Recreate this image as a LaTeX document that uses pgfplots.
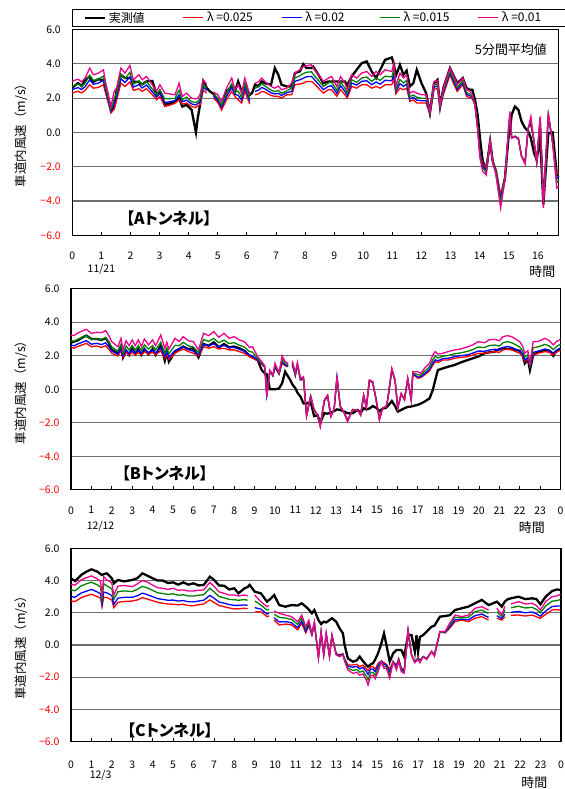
\documentclass[border=0pt]{standalone}
\usepackage{pgfplots}
\pgfplotsset{compat=1.18}
\usepackage{pgfplotstable}
\usepackage{fontspec}
\setmainfont{Noto Sans CJK JP}
\newfontfamily\jpp[RawFeature=+palt]{Noto Sans CJK JP}
\definecolor{ggreen}{RGB}{0,128,0}
\definecolor{gridgray}{RGB}{110,110,110}

\pgfplotstableread{
t k r b g m
0.00 2.60 2.29 2.49 2.68 2.97
0.10 2.75 2.35 2.56 2.76 3.05
0.20 2.87 2.40 2.61 2.81 3.10
0.32 2.70 2.30 2.50 2.68 2.95
0.44 3.05 2.45 2.67 2.87 3.17
0.60 3.26 2.78 3.07 3.34 3.75
0.72 2.95 2.58 2.81 3.03 3.36
0.89 3.10 2.62 2.87 3.10 3.45
1.07 3.05 2.78 3.04 3.28 3.65
1.15 2.68 2.25 2.44 2.61 2.87
1.33 1.26 1.13 1.24 1.35 1.51
1.44 1.51 1.35 1.67 1.96 2.40
1.52 2.39 1.85 2.07 2.27 2.58
1.67 3.36 2.87 3.13 3.38 3.75
1.81 3.17 2.68 2.91 3.13 3.46
1.98 3.17 2.95 3.24 3.50 3.90
2.10 2.97 2.45 2.64 2.81 3.07
2.29 2.93 2.55 2.79 3.02 3.36
2.40 2.80 2.39 2.59 2.78 3.07
2.55 2.97 2.55 2.76 2.96 3.26
2.75 3.00 2.19 2.37 2.53 2.78
2.90 2.19 1.90 2.05 2.18 2.39
3.01 2.40 2.10 2.30 2.49 2.78
3.18 1.61 1.51 1.74 1.96 2.29
3.39 1.70 1.61 1.80 1.97 2.23
3.53 1.81 1.70 1.85 1.98 2.19
3.67 2.00 1.90 2.19 2.46 2.87
3.78 1.51 1.65 1.79 1.91 2.10
3.93 1.61 1.71 1.88 2.05 2.29
4.10 1.32 1.51 1.66 1.79 2.00
4.25 0.00 1.45 1.60 1.74 1.95
4.31 0.83 1.55 1.69 1.81 2.00
4.39 1.61 1.61 1.79 1.95 2.20
4.50 2.97 2.45 2.64 2.81 3.07
4.62 2.60 2.30 2.45 2.59 2.80
4.72 2.40 nan nan nan nan
4.85 2.25 2.00 2.11 2.20 2.35
5.00 1.90 1.75 1.89 2.01 2.20
5.13 1.42 1.32 1.47 1.60 1.81
5.30 2.39 1.90 2.10 2.29 2.58
5.48 2.68 2.39 2.62 2.84 3.17
5.59 2.39 2.10 2.22 2.33 2.49
5.70 2.97 1.90 2.16 2.41 2.78
5.82 2.39 1.71 1.88 2.05 2.29
5.93 2.78 2.39 2.62 2.84 3.17
6.10 2.19 1.65 1.81 1.96 2.19
6.18 2.30 nan nan nan nan
6.28 2.78 2.19 2.39 2.58 2.87
6.40 2.70 2.25 2.46 2.66 2.95
6.51 2.97 2.39 2.62 2.84 3.17
6.62 2.87 2.35 2.54 2.71 2.97
6.83 2.78 2.15 2.31 2.46 2.68
6.96 3.75 2.10 2.24 2.38 2.58
7.08 3.36 2.10 2.28 2.45 2.70
7.19 2.78 2.00 2.15 2.28 2.49
7.37 2.68 2.19 2.31 2.42 2.58
7.54 2.68 2.19 2.39 2.58 2.87
7.65 3.46 2.78 2.98 3.17 3.46
7.82 3.56 2.82 3.07 3.30 3.65
7.94 3.98 2.87 3.16 3.43 3.84
8.05 3.75 2.97 3.25 3.51 3.90
8.22 3.75 2.97 3.26 3.53 3.94
8.28 3.84 2.90 3.16 3.39 3.75
8.46 3.36 2.58 2.81 3.03 3.36
8.63 2.87 2.29 2.49 2.68 2.97
8.80 2.97 2.49 2.69 2.88 3.17
8.91 2.97 2.49 2.72 2.94 3.26
9.09 2.97 2.10 2.27 2.44 2.68
9.22 2.97 2.49 2.72 2.94 3.26
9.37 2.97 2.19 2.39 2.58 2.87
9.45 2.75 2.00 2.15 2.28 2.49
9.60 3.26 2.68 2.88 3.07 3.36
9.77 3.65 2.58 2.76 2.92 3.17
9.95 4.04 2.78 2.98 3.17 3.46
10.12 4.14 2.78 3.01 3.23 3.55
10.29 3.55 2.58 2.78 2.97 3.26
10.44 3.17 2.68 2.94 3.18 3.55
10.58 3.65 2.58 2.81 3.03 3.36
10.75 4.23 2.78 3.04 3.28 3.65
10.98 4.37 2.78 3.01 3.23 3.55
11.05 4.00 3.10 3.38 3.65 4.04
11.12 3.30 2.25 2.39 2.51 2.70
11.26 3.94 2.58 2.84 3.09 3.46
11.38 3.36 2.49 2.69 2.88 3.17
11.49 3.60 2.58 2.81 3.03 3.36
11.60 2.68 1.81 1.95 2.09 2.29
11.72 2.87 1.90 2.05 2.18 2.39
11.84 3.65 1.71 1.88 2.05 2.29
12.00 2.87 1.71 1.85 1.99 2.19
12.16 2.29 1.71 1.85 1.99 2.19
12.29 1.13 1.05 1.10 1.14 1.20
12.43 2.87 2.49 2.63 2.77 2.97
12.55 3.07 2.58 2.72 2.84 3.03
12.64 1.51 1.45 1.50 1.54 1.61
12.75 2.58 2.19 2.31 2.42 2.58
12.98 3.75 3.36 3.48 3.59 3.75
13.12 3.26 2.78 2.92 3.06 3.26
13.23 2.87 2.39 2.51 2.62 2.78
13.42 3.17 2.78 2.90 3.01 3.17
13.55 2.58 2.10 2.22 2.33 2.49
13.67 2.49 2.00 2.12 2.23 2.39
13.75 2.49 1.95 2.02 2.09 2.19
13.84 1.90 1.61 1.61 1.61 1.61
13.93 1.03 0.25 0.25 0.25 0.25
14.01 -0.33 -1.20 -1.29 -1.37 -1.50
14.10 -1.60 -1.79 -1.93 -2.07 -2.27
14.22 -2.27 -2.08 -2.20 -2.31 -2.47
14.36 -0.52 -0.52 -0.52 -0.52 -0.52
14.45 -1.69 -1.69 -1.71 -1.72 -1.75
14.56 -2.27 -2.17 -2.26 -2.34 -2.47
14.72 -3.92 -3.63 -3.86 -4.08 -4.41
14.87 -2.66 -2.60 -2.65 -2.69 -2.75
14.99 -0.33 -0.14 -0.02 0.09 0.25
15.04 0.06 0.90 1.00 1.09 1.22
15.10 1.03 -0.33 -0.33 -0.33 -0.33
15.21 1.51 -0.23 -0.23 -0.23 -0.23
15.33 1.32 -0.33 -0.35 -0.37 -0.40
15.44 0.64 -1.40 -1.40 -1.40 -1.40
15.56 0.25 -1.70 -1.75 -1.79 -1.85
15.67 0.06 0.25 0.25 0.25 0.25
15.76 -0.33 0.45 0.59 0.73 0.93
15.87 -1.20 -0.52 -0.54 -0.57 -0.60
15.96 -1.60 -1.69 -1.71 -1.72 -1.75
16.08 -0.30 0.74 0.80 0.85 0.93
16.19 -4.20 -3.83 -4.00 -4.17 -4.41
16.36 -0.04 0.93 0.99 1.05 1.13
16.51 0.00 -0.62 -0.62 -0.62 -0.62
16.65 -2.47 -2.47 -2.70 -2.92 -3.24
16.72 -2.50 -2.30 -2.56 -2.79 -3.15
}\tA

\pgfplotstableread{
t k r b g m
0.00 2.78 2.50 2.64 2.90 3.24
0.15 2.85 2.45 2.59 2.86 3.20
0.30 2.90 2.54 2.69 2.97 3.34
0.50 3.05 2.62 2.78 3.07 3.45
0.75 3.20 2.74 2.90 3.19 3.58
1.00 3.00 2.54 2.69 2.97 3.34
1.25 3.00 2.58 2.74 3.02 3.40
1.50 2.95 2.50 2.67 2.97 3.38
1.70 3.05 2.60 2.77 3.09 3.50
1.85 2.80 2.40 2.55 2.83 3.20
2.00 2.35 2.15 2.28 2.52 2.84
2.30 2.15 1.99 2.09 2.29 2.54
2.45 2.50 2.30 2.44 2.70 3.04
2.55 1.90 1.90 1.99 2.14 2.35
2.70 2.30 2.20 2.33 2.58 2.90
2.85 2.05 2.05 2.15 2.35 2.60
3.00 2.45 2.20 2.34 2.61 2.95
3.15 2.10 2.05 2.15 2.35 2.60
3.30 2.40 2.20 2.34 2.61 2.95
3.45 2.05 2.05 2.15 2.32 2.55
3.60 2.40 2.25 2.39 2.66 3.00
3.80 2.10 2.10 2.20 2.40 2.65
4.00 2.40 2.20 2.34 2.61 2.95
4.15 2.05 2.05 2.15 2.35 2.60
4.40 2.60 2.30 2.48 2.81 3.24
4.60 1.71 1.85 1.96 2.17 2.45
4.70 2.20 2.10 2.23 2.48 2.80
4.80 1.65 1.80 1.91 2.12 2.40
5.10 2.25 2.15 2.32 2.63 3.04
5.30 2.40 2.30 2.40 2.60 2.85
5.50 2.55 2.40 2.54 2.80 3.14
5.75 2.40 2.25 2.37 2.60 2.90
6.00 2.45 2.15 2.28 2.52 2.84
6.25 1.91 2.00 2.07 2.19 2.35
6.50 2.70 2.54 2.69 2.97 3.34
6.75 2.60 2.45 2.59 2.86 3.20
7.00 2.80 2.54 2.71 3.03 3.44
7.25 2.50 2.40 2.53 2.78 3.10
7.50 2.70 2.45 2.62 2.93 3.34
7.75 2.50 2.35 2.48 2.73 3.05
8.00 2.55 2.35 2.50 2.78 3.14
8.25 2.45 2.25 2.38 2.63 2.95
8.50 2.30 2.15 2.28 2.52 2.84
8.75 2.00 1.95 2.05 2.25 2.50
8.90 1.90 1.85 1.98 2.22 2.54
9.15 1.75 1.70 1.75 1.84 1.95
9.35 1.15 1.50 1.53 1.58 1.65
9.50 0.95 1.30 1.32 1.35 1.40
9.60 0.90 -0.30 -0.33 -0.38 -0.44
9.75 0.00 1.05 1.07 1.10 1.15
9.90 0.00 0.80 0.81 0.83 0.85
10.00 0.00 1.30 1.35 1.44 1.55
10.20 0.05 0.90 0.92 0.95 1.00
10.35 0.36 1.55 1.64 1.79 2.00
10.50 1.05 1.40 1.45 1.54 1.65
10.65 0.75 1.35 1.39 1.46 1.55
10.75 0.56 nan nan nan nan
10.85 0.30 1.45 1.50 1.59 1.70
11.00 0.06 0.80 0.84 0.91 1.00
11.10 -0.20 1.45 1.48 1.53 1.60
11.25 -0.44 0.55 0.57 0.60 0.65
11.40 -0.84 0.60 0.63 0.68 0.75
11.55 -0.85 -1.55 -1.56 -1.58 -1.60
11.75 -0.74 -0.40 -0.41 -0.42 -0.44
11.92 -1.60 -1.23 -1.23 -1.23 -1.23
12.09 -1.55 -1.53 -1.54 -1.54 -1.55
12.22 -2.00 -2.15 -2.17 -2.19 -2.23
12.42 -1.43 -0.70 -0.69 -0.67 -0.64
12.58 -1.45 -0.40 -0.39 -0.37 -0.34
12.74 -1.40 -1.60 -1.61 -1.62 -1.63
12.90 -1.30 -1.20 -1.20 -1.20 -1.20
13.04 -1.20 0.70 0.71 0.73 0.76
13.20 -1.23 -1.00 -1.01 -1.02 -1.03
13.40 -1.33 -1.40 -1.41 -1.42 -1.43
13.56 -1.43 -1.85 -1.87 -1.89 -1.93
13.81 -1.43 -1.20 -1.21 -1.22 -1.23
14.06 -1.23 -1.23 -1.23 -1.23 -1.23
14.20 -1.40 -1.50 -1.51 -1.53 -1.55
14.35 -1.13 -0.40 -0.39 -0.37 -0.34
14.48 -1.20 -1.05 -1.06 -1.08 -1.10
14.63 -1.15 0.50 0.51 0.53 0.56
14.79 -1.00 0.40 0.41 0.43 0.46
14.96 -1.10 -0.60 -0.61 -0.62 -0.64
15.12 -1.30 -1.75 -1.77 -1.79 -1.83
15.28 -1.15 -1.10 -1.11 -1.12 -1.13
15.45 -1.10 -1.05 -1.05 -1.04 -1.03
15.53 -1.00 -0.60 -0.61 -0.62 -0.64
15.73 -0.70 1.15 1.17 1.20 1.25
15.89 -1.00 0.50 0.51 0.53 0.56
16.02 -1.33 -1.10 -1.11 -1.12 -1.13
16.19 -1.23 -0.30 -0.29 -0.27 -0.24
16.35 -1.13 -0.60 -0.61 -0.62 -0.64
16.51 -1.05 0.60 0.61 0.63 0.66
16.68 -1.03 -0.60 -0.61 -0.62 -0.64
16.76 -1.00 0.90 0.93 0.98 1.05
17.00 -0.93 0.66 0.73 0.87 1.05
17.15 -0.85 0.70 0.75 0.84 0.95
17.33 -0.74 0.85 0.93 1.07 1.25
17.58 -0.54 1.10 1.19 1.34 1.55
17.74 -0.04 1.45 1.56 1.77 2.05
17.86 0.56 1.65 1.76 1.97 2.25
17.99 1.15 1.60 1.70 1.87 2.10
18.24 1.25 1.75 1.83 1.97 2.15
18.50 1.35 1.75 1.85 2.02 2.25
18.81 1.45 1.85 1.95 2.12 2.35
19.10 1.60 1.90 2.00 2.17 2.40
19.46 1.75 1.95 2.06 2.27 2.54
19.70 1.85 2.05 2.16 2.37 2.65
19.96 1.95 2.15 2.28 2.52 2.84
20.28 2.15 2.15 2.27 2.49 2.78
20.50 2.20 2.20 2.34 2.61 2.95
20.78 2.25 2.25 2.39 2.64 2.98
21.00 2.40 2.20 2.33 2.58 2.90
21.19 2.45 2.35 2.50 2.78 3.14
21.40 2.40 2.40 2.55 2.84 3.20
21.60 2.40 2.35 2.50 2.78 3.14
21.80 2.35 2.25 2.39 2.66 3.00
22.00 2.30 2.15 2.28 2.52 2.84
22.15 2.00 2.00 2.10 2.30 2.55
22.25 1.55 1.65 1.75 1.92 2.15
22.40 1.80 1.80 1.90 2.07 2.30
22.50 1.15 1.35 1.39 1.46 1.55
22.66 2.05 2.05 2.20 2.48 2.84
22.90 2.20 2.15 2.28 2.53 2.85
23.24 2.35 2.25 2.40 2.68 3.04
23.45 2.30 2.20 2.33 2.58 2.90
23.65 2.00 2.05 2.16 2.37 2.65
23.80 2.30 2.20 2.32 2.55 2.85
24.00 2.40 2.35 2.47 2.69 2.98
}\tB

\pgfplotstableread{
t k r b g m
0.00 4.14 2.73 3.00 3.42 3.77
0.20 3.97 2.70 2.97 3.37 3.72
0.50 4.35 2.94 3.23 3.67 4.04
0.75 4.55 3.05 3.34 3.80 4.18
1.00 4.70 3.15 3.45 3.90 4.29
1.30 4.55 3.00 3.29 3.73 4.10
1.45 4.40 2.90 3.17 3.59 3.95
1.52 4.35 2.38 2.54 2.79 3.00
1.60 4.40 2.95 3.29 3.81 4.25
1.75 4.45 2.95 3.24 3.68 4.05
2.00 4.14 2.80 3.07 3.49 3.85
2.10 3.83 2.32 2.52 2.83 3.10
2.30 4.04 2.65 2.91 3.31 3.65
2.60 3.95 2.70 2.96 3.36 3.70
3.00 4.04 2.73 2.96 3.32 3.62
3.25 4.15 2.80 3.06 3.46 3.80
3.50 4.45 2.94 3.22 3.64 4.00
3.75 4.30 2.85 3.12 3.54 3.90
4.00 4.14 2.75 3.00 3.39 3.72
4.25 4.00 2.65 2.88 3.24 3.55
4.50 4.00 2.59 2.83 3.20 3.52
4.75 3.85 2.55 2.78 3.14 3.45
5.00 3.89 2.53 2.79 3.18 3.52
5.25 3.75 2.50 2.73 3.09 3.40
5.50 3.89 2.53 2.76 3.12 3.42
5.75 3.75 2.45 2.68 3.04 3.35
6.00 3.83 2.44 2.68 3.04 3.35
6.25 3.70 2.50 2.73 3.09 3.40
6.50 3.73 2.55 2.78 3.12 3.42
6.80 4.24 2.80 3.08 3.52 3.89
7.00 4.05 2.65 2.91 3.31 3.65
7.25 3.70 2.45 2.67 3.01 3.30
7.50 3.68 2.38 2.60 2.93 3.21
7.75 3.45 2.30 2.51 2.83 3.10
8.00 3.52 2.24 2.46 2.81 3.10
8.20 3.21 2.25 2.46 2.78 3.05
8.50 3.52 2.28 2.49 2.82 3.10
8.65 3.60 2.25 2.46 2.78 3.05
8.75 3.73 nan nan nan nan
9.00 3.31 2.05 2.32 2.74 3.10
9.30 3.21 2.07 2.23 2.48 2.69
9.60 2.69 1.76 1.92 2.17 2.38
9.70 2.80 1.80 1.97 2.23 2.45
9.80 2.90 nan nan nan nan
9.95 3.10 1.55 1.69 1.91 2.10
10.20 2.48 1.24 1.43 1.72 1.97
10.50 2.38 1.30 1.45 1.67 1.86
10.80 2.48 1.25 1.38 1.59 1.76
11.10 2.45 0.95 1.08 1.28 1.45
11.30 2.59 1.35 1.48 1.69 1.86
11.50 2.38 0.75 0.85 1.01 1.14
11.65 2.20 1.20 1.29 1.43 1.55
11.80 1.97 0.62 0.65 0.69 0.72
11.92 2.17 1.30 1.34 1.40 1.45
12.12 1.55 -0.70 -0.73 -0.79 -0.83
12.25 1.30 0.75 0.77 0.80 0.83
12.38 1.45 -0.55 -0.57 -0.60 -0.62
12.50 1.40 0.65 0.67 0.70 0.72
12.66 1.55 -0.65 -0.67 -0.70 -0.72
12.78 1.66 0.55 0.57 0.60 0.62
12.99 1.45 -0.55 -0.57 -0.60 -0.62
13.15 1.04 -0.60 -0.63 -0.68 -0.72
13.32 0.72 -0.55 -0.57 -0.60 -0.62
13.40 0.00 -0.85 -0.89 -0.95 -1.00
13.56 -0.83 -1.24 -1.32 -1.44 -1.55
13.81 -1.04 -1.24 -1.38 -1.58 -1.76
14.00 -0.95 -1.20 -1.33 -1.53 -1.70
14.14 -0.72 -1.35 -1.49 -1.69 -1.87
14.30 -1.00 -1.25 -1.39 -1.61 -1.80
14.46 -1.24 -1.45 -1.64 -1.93 -2.17
14.55 -1.34 -1.60 -1.83 -2.18 -2.48
14.68 -1.20 -1.35 -1.49 -1.71 -1.90
14.79 -1.14 -1.35 -1.49 -1.69 -1.87
14.90 -0.90 -1.50 -1.66 -1.90 -2.10
15.04 -0.52 -1.14 -1.28 -1.48 -1.66
15.20 0.10 -1.00 -1.01 -1.03 -1.04
15.33 0.72 -1.10 -1.19 -1.33 -1.45
15.45 0.00 -1.20 -1.26 -1.36 -1.45
15.61 -1.04 -1.50 -1.65 -1.88 -2.07
15.78 -0.52 -1.04 -1.04 -1.04 -1.04
15.94 -0.31 -1.24 -1.32 -1.44 -1.55
16.05 -0.31 -0.85 -0.89 -0.95 -1.00
16.18 -0.31 -1.45 -1.50 -1.59 -1.66
16.32 -0.72 -1.55 -1.60 -1.69 -1.76
16.51 0.62 0.83 0.86 0.90 0.93
16.68 0.62 -0.62 -0.62 -0.62 -0.62
16.84 -0.41 -1.04 -1.06 -1.08 -1.10
16.92 0.60 -0.90 -0.93 -0.97 -1.00
17.00 -0.41 -0.80 -0.83 -0.87 -0.90
17.09 0.50 -0.95 -0.99 -1.05 -1.10
17.25 0.62 -0.72 -0.72 -0.72 -0.72
17.42 0.83 -0.83 -0.85 -0.88 -0.90
17.66 1.14 -0.41 -0.41 -0.41 -0.41
17.80 1.20 -0.60 -0.63 -0.67 -0.70
18.07 1.76 0.83 0.83 0.83 0.83
18.32 1.80 0.75 0.77 0.80 0.83
18.55 1.85 1.05 1.13 1.25 1.35
18.81 2.17 1.45 1.56 1.72 1.86
19.14 2.28 1.55 1.60 1.69 1.76
19.46 2.38 1.45 1.56 1.72 1.86
19.79 2.59 1.66 1.82 2.07 2.28
20.12 2.80 1.76 1.92 2.17 2.38
20.45 2.48 1.55 1.71 1.96 2.17
20.60 2.55 nan nan nan nan
20.86 2.69 1.66 1.82 2.07 2.28
21.10 2.38 1.55 1.63 1.75 1.86
21.25 2.70 1.75 1.92 2.18 2.40
21.40 2.85 nan nan nan nan
21.55 2.90 1.85 2.03 2.31 2.55
21.92 3.00 1.86 2.08 2.41 2.69
22.25 2.85 1.80 2.00 2.30 2.55
22.58 2.90 1.86 2.05 2.34 2.59
22.80 2.85 1.75 1.93 2.21 2.45
22.99 2.53 1.66 1.79 2.00 2.17
23.25 3.00 1.90 2.11 2.43 2.70
23.56 3.35 2.17 2.39 2.72 3.00
23.80 3.45 2.20 2.42 2.76 3.05
23.97 3.42 2.17 2.42 2.82 3.15
}\tC

\pgfplotsset{
  panel/.style={
    scale only axis, anchor=south west, clip=false,
    ymin=-6, ymax=6,
    ytick={-6,-4,-2,0,2,4,6},
    yticklabels={\textcolor{red}{−6.0},\textcolor{red}{−4.0},\textcolor{red}{−2.0},0.0,2.0,4.0,6.0},
    ymajorgrids, grid style={draw=gridgray, line width=1.1bp},
    axis line style={line width=1.1bp},
    tick align=inside, xtick pos=left, major tick length=3.5bp,
    xtick style={line width=0.8bp, black},
    ytick style={draw=none},
    tick label style={font=\fontsize{10.5}{12}\selectfont},
    yticklabel style={xshift=-8bp},
    ylabel={車道内風速（m/s）},
    ylabel style={font=\fontsize{12.5}{14}\selectfont, anchor=center},
    unbounded coords=jump,
    /pgf/number format/assume math mode=true,
  },
}

\begin{document}
\begin{tikzpicture}
\useasboundingbox (0bp,0bp) rectangle (565bp,789bp);

% Panel A
\begin{axis}[panel, at={(72.3bp,553.7bp)}, width=486.5bp, height=205.8bp,
  xmin=0, xmax=16.72, xtick={0,...,16},
  xticklabel style={yshift=-13bp},
  ylabel style={at={(axis description cs:-0.1054,0.5)}},
  legend style={at={(0,1)}, anchor=south west, yshift=2.8bp,
    legend columns=5, draw=black,
    font=\fontsize{12}{13}\selectfont, inner xsep=11bp, inner ysep=2bp,
    nodes={inner ysep=1bp, inner xsep=3bp},
    /tikz/every even column/.append style={column sep=21bp}},
  legend cell align=left,
  legend image code/.code={\draw[#1] (0bp,0bp) -- (20bp,0bp);},
]
\addplot[black, line width=2.3bp] table[x=t,y=k]{\tA};
\addlegendentry{\makebox[50bp][l]{実測値}}
\addplot[red, line width=1.3bp] table[x=t,y=r]{\tA};
\addlegendentry{\makebox[50bp][l]{λ =0.025}}
\addplot[blue, line width=1.3bp] table[x=t,y=b]{\tA};
\addlegendentry{\makebox[50bp][l]{λ =0.02}}
\addplot[ggreen, line width=1.3bp] table[x=t,y=g]{\tA};
\addlegendentry{\makebox[50bp][l]{λ =0.015}}
\addplot[magenta, line width=1.3bp] table[x=t,y=m]{\tA};
\addlegendentry{\makebox[50bp][l]{λ =0.01}}
\node[anchor=east, font=\fontsize{13}{14}\selectfont] at (axis cs:16.43,4.8) {5分間平均値};
\node[font=\jpp\bfseries\fontsize{16}{18}\selectfont] at (axis cs:3.32,-5.0) {【Aトンネル】};
\node[font=\fontsize{10.5}{12}\selectfont] at (axis cs:1,-6) [yshift=-33.5bp] {11/21};
\node[anchor=east, font=\fontsize{13}{14}\selectfont] at (axis cs:16.72,-6) [yshift=-36.7bp] {時間};
\end{axis}

% Panel B
\begin{axis}[panel, at={(71bp,299.1bp)}, width=489.5bp, height=201.2bp,
  xmin=0, xmax=24, xtick={0,...,24},
  xticklabels={0,1,2,3,4,5,6,7,8,9,10,11,12,13,14,15,16,17,18,19,20,21,22,23,0},
  xticklabel style={yshift=-13bp},
  ylabel style={at={(axis description cs:-0.102,0.5)}},
]
\addplot[black, line width=2.3bp] table[x=t,y=k]{\tB};
\addplot[red, line width=1.3bp] table[x=t,y=r]{\tB};
\addplot[blue, line width=1.3bp] table[x=t,y=b]{\tB};
\addplot[ggreen, line width=1.3bp] table[x=t,y=g]{\tB};
\addplot[magenta, line width=1.3bp] table[x=t,y=m]{\tB};
\node[font=\jpp\bfseries\fontsize{16}{18}\selectfont] at (axis cs:4.6,-5.0) {【Bトンネル】};
\node[font=\fontsize{10.5}{12}\selectfont] at (axis cs:1.45,-6) [yshift=-36bp] {12/12};
\node[anchor=east, font=\fontsize{13}{14}\selectfont] at (axis cs:23.4,-6) [yshift=-38bp] {時間};
\end{axis}

% Panel C
\begin{axis}[panel, at={(71bp,47.4bp)}, width=490bp, height=193.2bp,
  xmin=0, xmax=24, xtick={0,...,24},
  xticklabels={0,1,2,3,4,5,6,7,8,9,10,11,12,13,14,15,16,17,18,19,20,21,22,23,0},
  xticklabel style={yshift=-16bp},
  ylabel style={at={(axis description cs:-0.102,0.5)}},
]
\addplot[black, line width=2.3bp] table[x=t,y=k]{\tC};
\addplot[red, line width=1.3bp] table[x=t,y=r]{\tC};
\addplot[blue, line width=1.3bp] table[x=t,y=b]{\tC};
\addplot[ggreen, line width=1.3bp] table[x=t,y=g]{\tC};
\addplot[magenta, line width=1.3bp] table[x=t,y=m]{\tC};
\node[font=\jpp\bfseries\fontsize{16}{18}\selectfont] at (axis cs:4.85,-5.3) {【Cトンネル】};
\node[font=\fontsize{10.5}{12}\selectfont] at (axis cs:1.45,-6) [yshift=-34bp] {12/3};
\node[anchor=east, font=\fontsize{13}{14}\selectfont] at (axis cs:23.5,-6) [yshift=-41bp] {時間};
\end{axis}
\end{tikzpicture}
\end{document}
